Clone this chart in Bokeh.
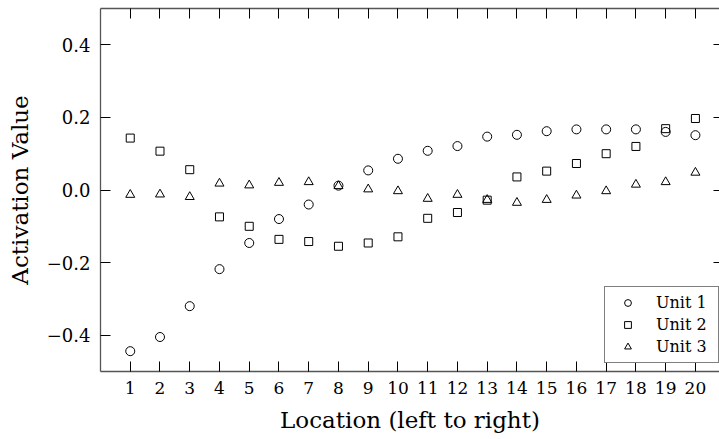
from bokeh.plotting import figure
from bokeh.models import LinearAxis, Range1d, Legend, LegendItem, FixedTicker
from bokeh.embed import file_html
from bokeh.resources import INLINE

locations = list(range(1, 21))
unit1 = [-0.444, -0.405, -0.320, -0.218, -0.146, -0.080, -0.040, 0.012, 0.054, 0.086,
         0.108, 0.121, 0.147, 0.152, 0.162, 0.167, 0.167, 0.167, 0.160, 0.151]
unit2 = [0.143, 0.107, 0.056, -0.074, -0.100, -0.136, -0.142, -0.155, -0.146, -0.129,
         -0.078, -0.062, -0.028, 0.036, 0.052, 0.073, 0.100, 0.120, 0.169, 0.197]
unit3 = [-0.013, -0.012, -0.019, 0.018, 0.013, 0.020, 0.022, 0.011, 0.002, -0.003,
         -0.024, -0.013, -0.027, -0.035, -0.027, -0.015, -0.003, 0.015, 0.022, 0.048]
y_ticks = [-0.4, -0.2, 0.0, 0.2, 0.4]
y_tick_labels = ["\u22120.4", "\u22120.2", "0.0", "0.2", "0.4"]
labels = ["Unit 1", "Unit 2", "Unit 3"]

FONT = "DejaVu Serif"

p = figure(width=719, height=439, output_backend="svg", toolbar_location=None,
           x_range=Range1d(0, 20.81), y_range=Range1d(-0.5, 0.5),
           x_axis_location=None, y_axis_location=None,
           min_border_left=100, min_border_right=0, min_border_top=8, min_border_bottom=68)
p.outline_line_color = None
p.grid.visible = False
p.background_fill_color = "white"
p.border_fill_color = "white"

def style(ax, labels_on):
    ax.axis_line_color = "#555555"
    ax.axis_line_width = 1.3
    ax.major_tick_line_color = "black"
    ax.major_tick_line_width = 1
    ax.major_tick_in = 10
    ax.major_tick_out = 0
    ax.minor_tick_line_color = None
    ax.major_label_text_font = FONT
    ax.major_label_text_color = "black"
    ax.axis_label_text_color = "black"
    if not labels_on:
        ax.major_label_text_font_size = "0px"
        ax.major_label_text_color = None
        ax.major_label_text_alpha = 0
        ax.major_label_standoff = 0

xb = LinearAxis(ticker=FixedTicker(ticks=locations))
style(xb, True)
xb.major_label_text_font_size = "17px"
xb.major_label_standoff = 10
xb.axis_label = "Location (left to right)"
xb.axis_label_text_font = FONT
xb.axis_label_text_font_size = "23px"
xb.axis_label_text_font_style = "normal"
xb.axis_label_standoff = 10
p.add_layout(xb, "below")

xt = LinearAxis(ticker=FixedTicker(ticks=locations))
style(xt, False)
p.add_layout(xt, "above")

yl = LinearAxis(ticker=FixedTicker(ticks=y_ticks))
style(yl, True)
yl.major_label_text_font_size = "18px"
yl.major_label_standoff = 10
yl.major_label_overrides = dict(zip(y_ticks, y_tick_labels))
yl.axis_label = "Activation Value"
yl.axis_label_text_font = FONT
yl.axis_label_text_font_size = "23px"
yl.axis_label_text_font_style = "normal"
yl.axis_label_standoff = 11
p.add_layout(yl, "left")

yr = LinearAxis(ticker=FixedTicker(ticks=y_ticks))
style(yr, False)
yr.axis_line_color = None
yr.major_tick_in = 6
p.add_layout(yr, "right")

r1 = p.scatter(locations, unit1, marker="circle", size=9, fill_color=None,
               line_color="black", line_width=1)
r2 = p.scatter(locations, unit2, marker="square", size=8, fill_color=None,
               line_color="black", line_width=1)
r3 = p.scatter(locations, unit3, marker="triangle", size=9, fill_color=None,
               line_color="black", line_width=1)

legend = Legend(items=[LegendItem(label=labels[0], renderers=[r1]),
                       LegendItem(label=labels[1], renderers=[r2]),
                       LegendItem(label=labels[2], renderers=[r3])],
                location=(504, 8))
legend.label_text_font = FONT
legend.label_text_font_size = "16px"
legend.label_text_color = "black"
legend.border_line_color = "black"
legend.border_line_width = 1
legend.background_fill_color = "white"
legend.background_fill_alpha = 1
legend.glyph_width = 33
legend.glyph_height = 17
legend.label_height = 17
legend.label_width = 56
legend.label_standoff = 12
legend.padding = 6
legend.spacing = 3
legend.margin = 0
p.add_layout(legend, "center")

open("out.html", "w").write(file_html(p, INLINE))
